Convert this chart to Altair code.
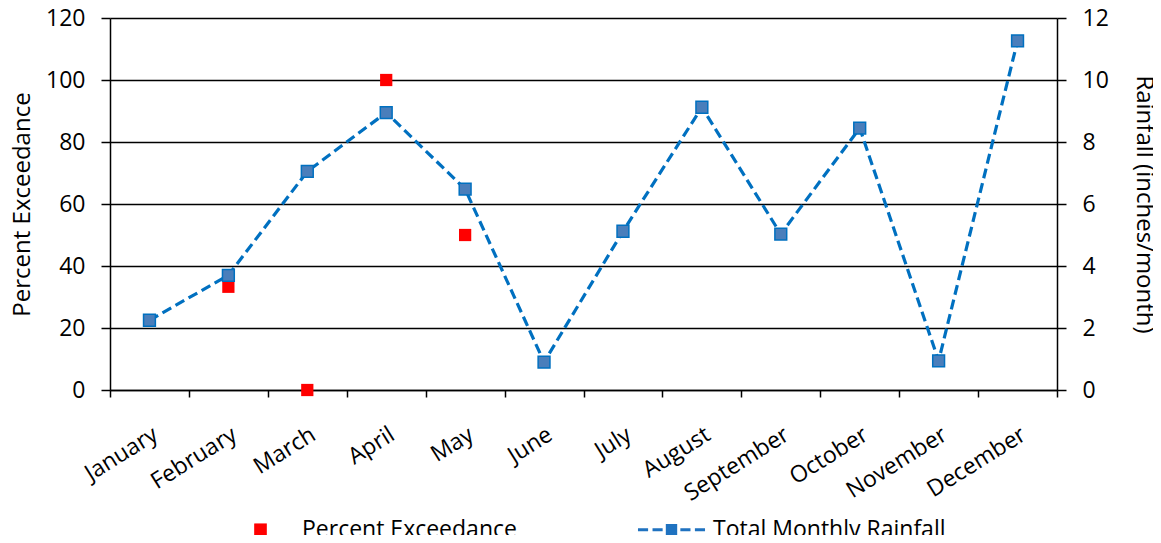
import altair as alt
import pandas as pd

months = ["January", "February", "March", "April", "May", "June", "July",
          "August", "September", "October", "November", "December"]
rainfall = [2.25, 3.7, 7.05, 8.95, 6.48, 0.9, 5.12, 9.12, 5.03, 8.45, 0.94, 11.26]
pe_months = ["February", "March", "April", "May"]
pe_values = [33.3, 0, 100, 50]

S_PE = "Percent Exceedance"
S_RF = "Total Monthly Rainfall"

rain_df = pd.DataFrame({"month": months, "value": rainfall, "series": S_RF})
pe_df = pd.DataFrame({"month": pe_months, "value": pe_values, "series": S_PE})

FONT = "Open Sans"

line_path = ("M-5.3,-0.25L-3.7,-0.25L-3.7,0.25L-5.3,0.25Z"
             "M-3.0,-0.25L-1.4,-0.25L-1.4,0.25L-3.0,0.25Z"
             "M-0.9,-0.9L0.9,-0.9L0.9,0.9L-0.9,0.9Z"
             "M1.4,-0.25L3.0,-0.25L3.0,0.25L1.4,0.25Z"
             "M3.7,-0.25L5.3,-0.25L5.3,0.25L3.7,0.25Z")

x_enc = alt.X(
    "month:N",
    sort=months,
    scale=alt.Scale(type="band", domain=months, paddingInner=0, paddingOuter=0),
    axis=alt.Axis(
        title=None, tickBand="extent", labelAngle=-32, labelAlign="right",
        labelBaseline="top", labelPadding=26, labelFontSize=23, labelFont=FONT,
        labelColor="#000", tickColor="#000", tickSize=7, tickWidth=1.5,
        domainColor="#000", domainWidth=1.5, grid=False,
    ),
)

legend_def = alt.Legend(
    title=None, orient="none", legendX=139, legendY=500, direction="horizontal",
    labelFont=FONT, labelFontSize=23, labelColor="#000", labelOffset=30,
    labelLimit=500, columnPadding=120, symbolSize=160, symbolStrokeWidth=0, padding=0,
)

color_enc = alt.Color(
    "series:N",
    scale=alt.Scale(domain=[S_PE, S_RF], range=["#FF0000", "#1F72C0"]),
    legend=legend_def,
)
shape_enc = alt.Shape(
    "series:N",
    scale=alt.Scale(domain=[S_PE, S_RF], range=["square", line_path]),
    legend=legend_def,
)

pe_layer = alt.Chart(pe_df).mark_point(filled=True, size=150, opacity=1).encode(
    x=x_enc,
    y=alt.Y(
        "value:Q",
        scale=alt.Scale(domain=[0, 120], nice=False),
        axis=alt.Axis(
            title="Percent Exceedance", orient="left", values=list(range(0, 121, 20)),
            grid=True, gridColor="#000", gridWidth=1.5, tickColor="#000", tickSize=9,
            tickWidth=1.5, domainColor="#000", domainWidth=1.5, labelFontSize=23,
            labelFont=FONT, labelColor="#000", labelPadding=16, titleFont=FONT,
            titleFontSize=24, titleFontWeight="normal", titleColor="#000", titlePadding=11,
        ),
    ),
    color=color_enc,
    shape=shape_enc,
)

y_rf = alt.Y(
    "value:Q",
    scale=alt.Scale(domain=[0, 12], nice=False),
    axis=alt.Axis(
        title="Rainfall (inches/month)", orient="right", values=list(range(0, 13, 2)),
        grid=False, tickColor="#000", tickSize=9, tickWidth=1.5, domainColor="#000",
        domainWidth=1.5, labelFontSize=23, labelFont=FONT, labelColor="#000",
        labelPadding=16, titleFont=FONT, titleFontSize=24, titleFontWeight="normal",
        titleColor="#000", titlePadding=23,
    ),
)

rf_line = alt.Chart(rain_df).mark_line(
    color="#0070C0", strokeWidth=3.2, strokeDash=[10, 5]
).encode(x=x_enc, y=y_rf)

rf_points = alt.Chart(rain_df).mark_point(
    shape="square", filled=True, size=140, fill="#4A7EBB", stroke="#0070C0",
    strokeWidth=1.5, opacity=1
).encode(x=x_enc, y=y_rf)

rf = alt.layer(rf_line, rf_points)

chart = alt.layer(pe_layer, rf).resolve_scale(y="independent").properties(
    width=947, height=372,
    autosize=alt.AutoSizeParams(type="none"),
    padding={"left": 102, "top": 10, "right": 96, "bottom": 145},
).configure_view(stroke=None)

chart.save("out.html", embed_options={"renderer": "svg", "actions": False})
